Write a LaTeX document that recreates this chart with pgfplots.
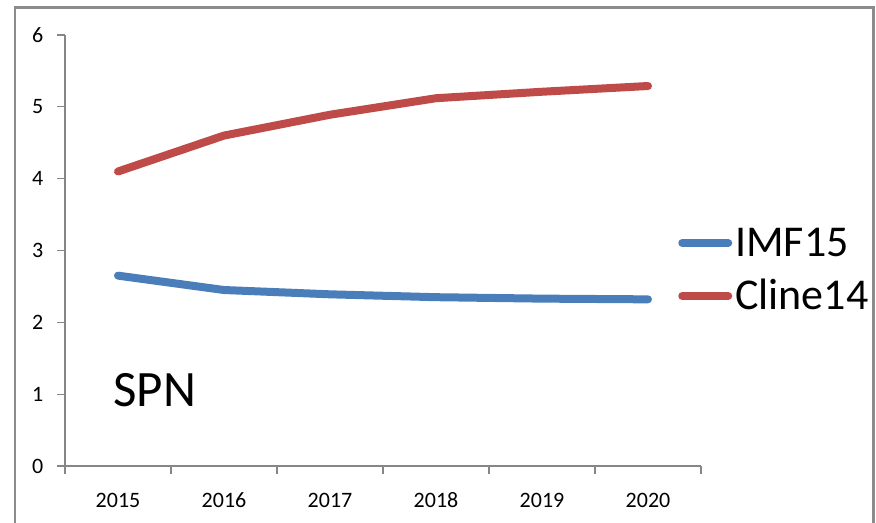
\documentclass[border=0pt]{standalone}
\usepackage{fontspec}
\setmainfont{Carlito}
\usepackage{pgfplots}
\pgfplotsset{compat=1.18}
\definecolor{sblue}{HTML}{4A7EBB}
\definecolor{sred}{HTML}{BE4B48}
\definecolor{axgray}{HTML}{868686}
\definecolor{bordergray}{HTML}{8C8C8C}
\begin{document}
\begin{tikzpicture}[x=1pt,y=1pt]
\useasboundingbox (0,0) rectangle (438,-261.5);
\draw[color=bordergray, line width=1.2pt] (7.6,-261.5) -- (7.6,-3.8) -- (436.7,-3.8) -- (436.7,-261.5);
\begin{axis}[
  at={(32.5pt,-233pt)}, anchor=south west,
  scale only axis, width=318pt, height=215.5pt,
  xmin=-0.5, xmax=5.5, ymin=0, ymax=6,
  axis x line*=bottom, axis y line*=left,
  axis line style={axgray, line width=0.6pt, -},
  xtick={-0.5,0.5,1.5,2.5,3.5,4.5,5.5}, xticklabels={},
  extra x ticks={0,1,2,3,4,5},
  extra x tick labels={2015,2016,2017,2018,2019,2020},
  extra x tick style={tick style={draw=none}},
  ytick={0,1,2,3,4,5,6},
  tick align=outside, major tick length=4pt,
  tick style={axgray, line width=0.6pt},
  /pgf/number format/assume math mode=true,
  ticklabel style={font=\fontsize{11}{13}\selectfont, text=black},
  xticklabel style={text height=7.2pt, text depth=0pt, yshift=-5.8pt},
  yticklabel style={xshift=-3.3pt},
  clip=false,
  legend style={at={(0.9636,0.456)}, anchor=west, draw=none, fill=none,
    inner sep=0pt, font=\fontsize{22}{26}\selectfont,
    row sep=12.5pt, column sep=1.5pt,
    nodes={inner sep=0pt, text height=14pt, text depth=0pt}},
  legend cell align=left,
  legend image code/.code={\draw[#1] (2pt,0pt) -- (25pt,0pt);},
  every axis plot/.append style={line width=4pt, line cap=round, line join=round},
]
\addplot[sblue] coordinates {(0,2.65) (1,2.45) (2,2.39) (3,2.35) (4,2.33) (5,2.32)};
\addlegendentry{IMF15}
\addplot[sred] coordinates {(0,4.10) (1,4.60) (2,4.89) (3,5.12) (4,5.21) (5,5.29)};
\addlegendentry{Cline14}
\node[anchor=base west, inner sep=0pt, font=\fontsize{25.5}{29}\selectfont] at (rel axis cs:0.0755,0.137) {SPN};
\end{axis}
\end{tikzpicture}
\end{document}
